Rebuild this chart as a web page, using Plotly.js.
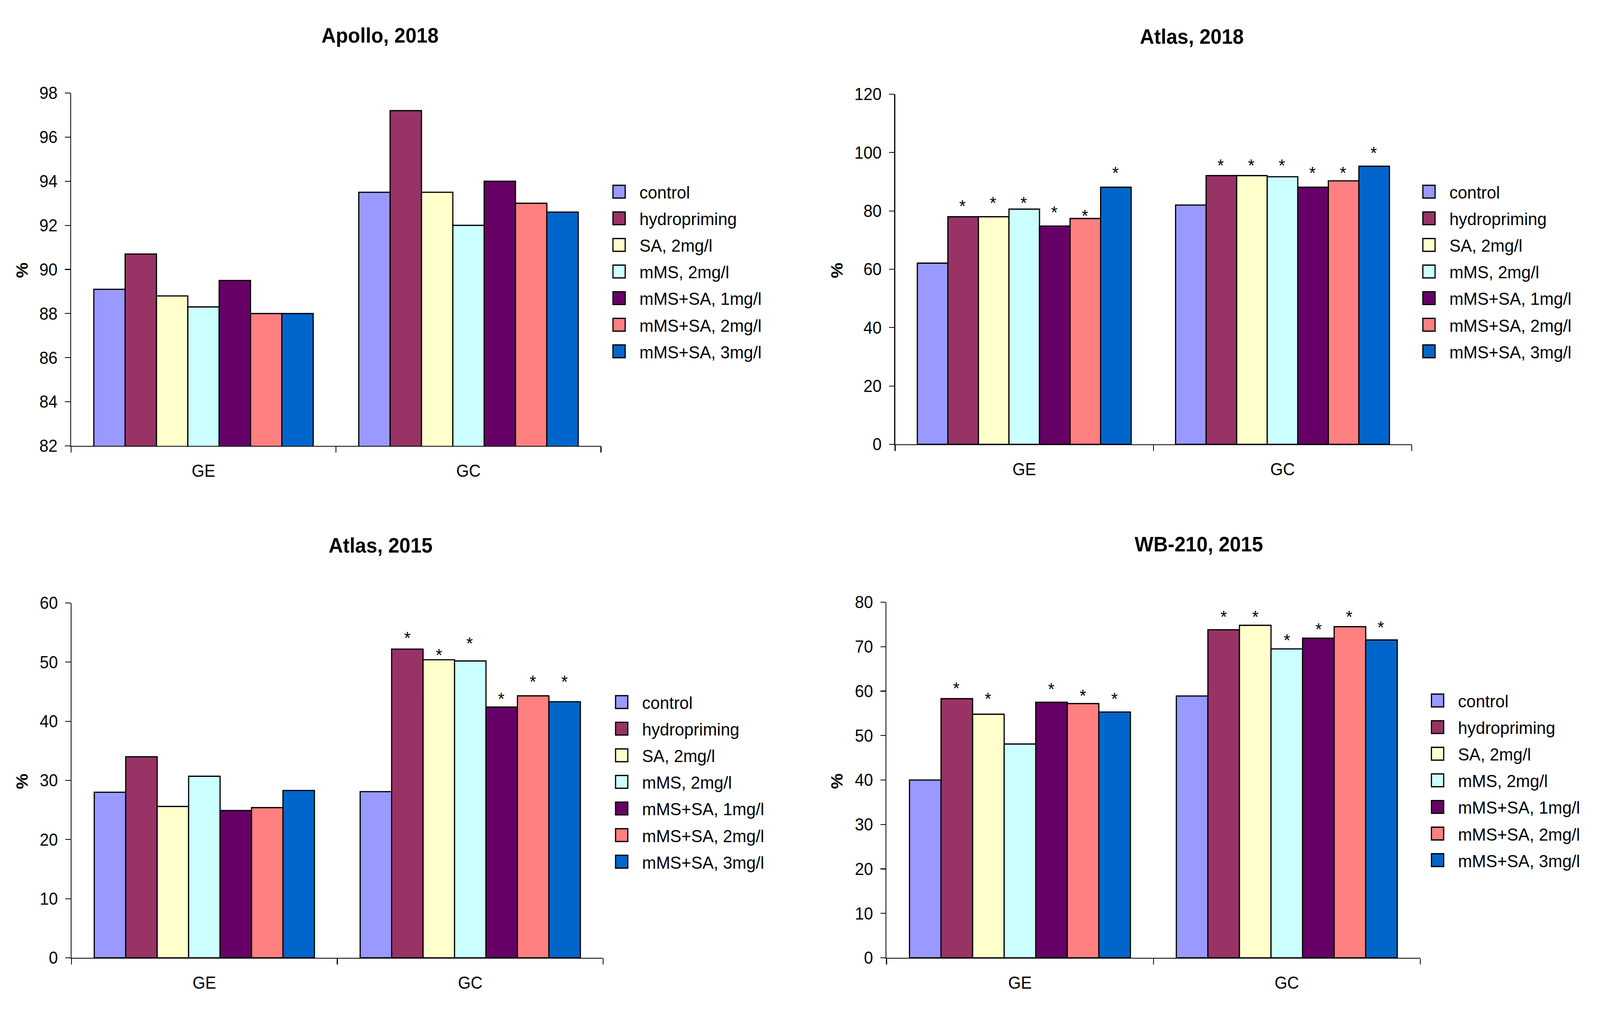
<!DOCTYPE html>
<html><head><meta charset="utf-8">
<script src="https://cdn.plot.ly/plotly-3.0.1.min.js"></script>
<style>
html,body{margin:0;padding:0;background:#fff;overflow:hidden;width:100%;height:100%}
#wrap{position:absolute;left:0;top:0;width:1568px;height:963px;transform-origin:0 0;}
#chart{width:1568px;height:963px}
</style></head>
<body><div id="wrap"><div id="chart"></div></div>
<script>
// ---------------- data ----------------
const categories = ['GE', 'GC'];
const seriesNames = ['control', 'hydropriming', 'SA, 2mg/l', 'mMS, 2mg/l', 'mMS+SA, 1mg/l', 'mMS+SA, 2mg/l', 'mMS+SA, 3mg/l'];
const seriesColors = ['#9999FF', '#993366', '#FFFFCC', '#CCFFFF', '#660066', '#FF8080', '#0066CC'];
const panelTitles = ['Apollo, 2018', 'Atlas, 2018', 'Atlas, 2015', 'WB-210, 2015'];
const yAxisLabel = '%';

const apollo2018GE = [89.1, 90.7, 88.8, 88.3, 89.5, 88.0, 88.0];
const apollo2018GC = [93.5, 97.2, 93.5, 92.0, 94.0, 93.0, 92.6];
const atlas2018GE  = [62.1, 78.0, 78.0, 80.6, 74.8, 77.4, 88.1];
const atlas2018GC  = [82.0, 92.1, 92.1, 91.7, 88.1, 90.3, 95.3];
const atlas2015GE  = [28.0, 34.0, 25.6, 30.7, 24.9, 25.4, 28.3];
const atlas2015GC  = [28.1, 52.2, 50.4, 50.2, 42.4, 44.3, 43.3];
const wb2015GE     = [40.0, 58.3, 54.8, 48.1, 57.5, 57.2, 55.3];
const wb2015GC     = [58.9, 73.8, 74.8, 69.5, 71.9, 74.5, 71.5];

// asterisk (significance) heights, null = no asterisk
const apollo2018StarGE = [null, null, null, null, null, null, null];
const apollo2018StarGC = [null, null, null, null, null, null, null];
const atlas2018StarGE  = [null, 82.0, 83.1, 83.1, 80.0, 78.6, 93.5];
const atlas2018StarGC  = [null, 96.1, 96.1, 96.1, 93.5, 93.5, 100.3];
const atlas2015StarGE  = [null, null, null, null, null, null, null];
const atlas2015StarGC  = [null, 54.2, 51.3, 53.4, 43.9, 46.9, 46.9];
const wb2015StarGE     = [null, 60.9, 58.6, null, 60.8, 59.2, 58.6];
const wb2015StarGC     = [null, 77.0, 77.0, 71.6, 74.2, 77.0, 74.5];

const yRanges = [[82, 98], [0, 120], [0, 60], [0, 80]];
const yDticks = [2, 20, 10, 10];

// ---------------- layout helpers ----------------
const BW = 1568, BH = 963;
const vw = window.innerWidth || 4281, vh = window.innerHeight || 2628;
document.getElementById('wrap').style.transform = 'scale(' + (vw / BW) + ',' + (vh / BH) + ')';

const W = 4281, H = 2628, S = 4281 / BW;
const FONT = 'Liberation Sans, Arial, sans-serif';
const panelValues = [[apollo2018GE, apollo2018GC], [atlas2018GE, atlas2018GC], [atlas2015GE, atlas2015GC], [wb2015GE, wb2015GC]];
const panelStars = [[apollo2018StarGE, apollo2018StarGC], [atlas2018StarGE, atlas2018StarGC], [atlas2015StarGE, atlas2015StarGC], [wb2015StarGE, wb2015StarGC]];

// plot-area boxes in target pixels: [left, right, top, bottom]
const boxes = [[190, 1608, 238, 1141], [2395, 3777, 241, 1137], [191, 1614, 1543, 2451], [2372, 3800, 1541, 2451]];
const titlePos = [[1016, 90], [3189, 93], [1018, 1395], [3208, 1392]];
const pctPos = [[57, 690], [2237, 692], [56, 1999], [2237, 1999]];
const legendTextStart = [1711, 3878, 1718, 3901];
const legendFirstY = [494, 494, 1800, 1796];

const BARGAP = 0.172;
const traces = [];
const layout = {
  width: BW, height: BH,
  margin: {l: 0, r: 0, t: 0, b: 0, pad: 0},
  paper_bgcolor: '#fff', plot_bgcolor: 'rgba(0,0,0,0)',
  barmode: 'group', bargap: BARGAP, bargroupgap: 0,
  font: {family: FONT, color: '#000', size: 16},
  showlegend: true,
  annotations: []
};

for (let p = 0; p < 4; p++) {
  const k = p + 1;
  const xa = 'x' + (k === 1 ? '' : k), ya = 'y' + (k === 1 ? '' : k);
  const xo = 'x' + (k + 4);
  const lg = 'legend' + (k === 1 ? '' : k);
  const [L, R, T, B] = boxes[p];
  for (let i = 0; i < seriesNames.length; i++) {
    traces.push({
      type: 'bar', name: seriesNames[i], x: categories,
      y: [panelValues[p][0][i], panelValues[p][1][i]],
      xaxis: xa, yaxis: ya, legend: lg, legendgroup: 'p' + k + 's' + i,
      marker: {color: seriesColors[i], line: {color: '#000', width: 1.15}},
      hoverinfo: 'skip'
    });
  }
  // asterisks, placed through an overlaid numeric axis aligned with the category axis
  const w = (1 - BARGAP) / seriesNames.length;
  for (let c = 0; c < categories.length; c++) {
    for (let i = 0; i < seriesNames.length; i++) {
      const v = panelStars[p][c][i];
      if (v === null) continue;
      layout.annotations.push({
        xref: xo, yref: ya, x: c - (1 - BARGAP) / 2 + (i + 0.5) * w, y: v,
        xanchor: 'center', yanchor: 'middle', yshift: -0.8, showarrow: false, text: '*',
        font: {family: FONT, size: 16.5, color: '#000'}
      });
    }
  }

  const xdom = [L / W, R / W], ydom = [1 - B / H, 1 - T / H];
  layout['xaxis' + (k === 1 ? '' : k)] = {
    domain: xdom, anchor: ya, type: 'category', range: [-0.5, 1.5],
    showline: true, linecolor: '#000', linewidth: 0.8, mirror: false,
    ticks: 'outside', tickson: 'boundaries', ticklen: 5.5, tickwidth: 0.8, tickcolor: '#000',
    tickfont: {family: FONT, size: 16, color: '#000'}, ticklabelstandoff: 9,
    showgrid: false, zeroline: false, fixedrange: true
  };
  layout['yaxis' + (k === 1 ? '' : k)] = {
    domain: ydom, anchor: xa, range: yRanges[p], tick0: yRanges[p][0], dtick: yDticks[p],
    showline: true, linecolor: '#000', linewidth: 0.8,
    ticks: 'outside', ticklen: 5.2, tickwidth: 0.8, tickcolor: '#000',
    tickfont: {family: FONT, size: 16, color: '#000'}, ticklabelstandoff: 4,
    showgrid: false, zeroline: false, fixedrange: true
  };
  layout['xaxis' + (k + 4)] = {
    overlaying: xa, anchor: ya, range: [-0.5, 1.5], visible: false, fixedrange: true
  };
  layout[lg] = {
    x: (legendTextStart[p] - 40 * S) / W, xanchor: 'left',
    y: 1 - (legendFirstY[p] - 13 * S - 15) / H, yanchor: 'top',
    bgcolor: 'rgba(0,0,0,0)', borderwidth: 0,
    font: {family: FONT, size: 16.5, color: '#000'},
    tracegroupgap: 0.5, traceorder: 'grouped'
  };
  layout.annotations.push({
    xref: 'paper', yref: 'paper', x: titlePos[p][0] / W, y: 1 - titlePos[p][1] / H,
    xanchor: 'center', yanchor: 'middle', showarrow: false, text: panelTitles[p],
    font: {family: FONT, size: 19.5, weight: 'bold', color: '#000'}
  });
  layout.annotations.push({
    xref: 'paper', yref: 'paper', x: pctPos[p][0] / W, y: 1 - pctPos[p][1] / H,
    xanchor: 'center', yanchor: 'middle', showarrow: false, text: yAxisLabel, textangle: -90,
    font: {family: FONT, size: 16.5, weight: 'bold', color: '#000'}
  });
}

Plotly.newPlot('chart', traces, layout, {displayModeBar: false, staticPlot: true, responsive: false});
</script>
</body></html>
